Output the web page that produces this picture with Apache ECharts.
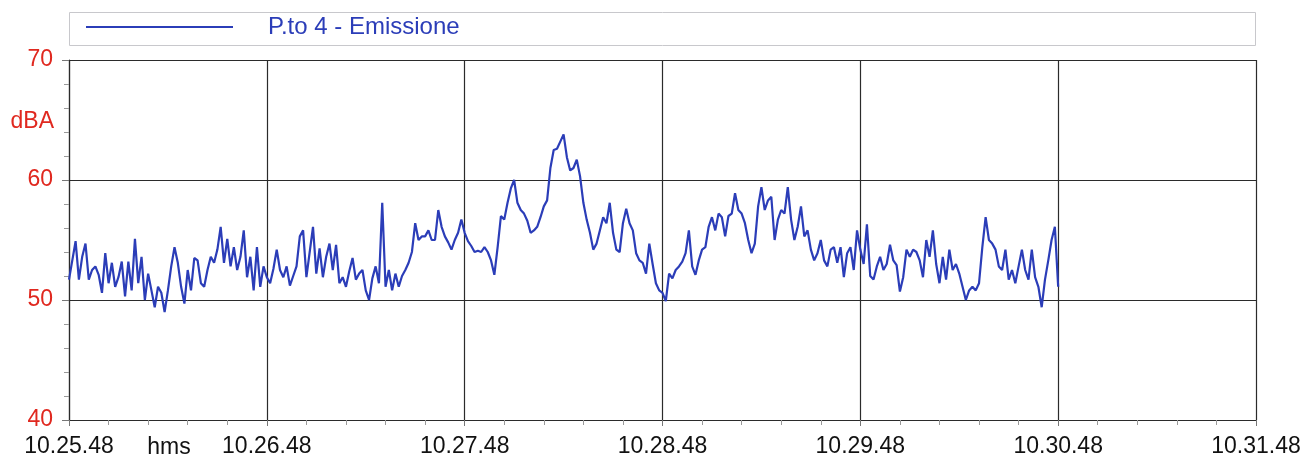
<!DOCTYPE html>
<html>
<head>
<meta charset="utf-8">
<script src="https://cdn.jsdelivr.net/npm/echarts@6/dist/echarts.min.js"></script>
<style>
  html, body { margin: 0; padding: 0; background: #ffffff; }
  #chart { width: 1306px; height: 459px; }
</style>
</head>
<body>
<div id="chart"></div>
<script>
// Sound level, dB(A), one reading per second from 10.25.48 onward
const seriesName = 'P.to 4 - Emissione';
const xTickLabels = ['10.25.48', '10.26.48', '10.27.48', '10.28.48', '10.29.48', '10.30.48', '10.31.48'];
const xUnitLabel = 'hms';
const yUnitLabel = 'dBA';

const levelsMin1 = [
  51.7, 53.3, 54.9, 51.7, 53.6, 54.7, 51.7, 52.5, 52.8, 52.1,
  50.6, 53.9, 51.4, 53.1, 51.1, 51.9, 53.2, 50.3, 53.2, 50.8,
  55.1, 51.4, 53.6, 50.0, 52.2, 50.8, 49.4, 51.1, 50.6, 49.0,
  50.8, 52.8, 54.4, 53.1, 51.1, 49.7, 52.5, 50.8, 53.5, 53.3,
  51.4, 51.1, 52.5, 53.6, 53.1, 54.2, 56.1, 53.1, 55.1, 52.8,
  54.4, 52.5, 53.6, 55.8, 51.9, 53.6, 50.8, 54.4, 51.1, 52.8
];
const levelsMin2 = [
  51.9, 51.4, 52.6, 54.2, 52.5, 51.9, 52.8, 51.2, 52.0, 52.8,
  55.3, 55.8, 51.9, 54.0, 56.1, 52.2, 54.3, 51.9, 53.6, 54.7,
  52.5, 54.6, 51.4, 51.9, 51.1, 52.4, 53.5, 51.7, 52.2, 52.5,
  50.8, 50.0, 51.8, 52.8, 51.4, 58.1, 51.1, 52.5, 50.8, 52.2,
  51.1, 52.0, 52.5, 53.1, 54.0, 56.4, 55.0, 55.3, 55.3, 55.8,
  55.0, 55.0, 57.5, 56.1, 55.3, 54.8, 54.2, 55.0, 55.6, 56.7
];
const levelsMin3 = [
  55.6, 54.9, 54.5, 54.0, 54.1, 54.0, 54.4, 54.0, 53.3, 52.1,
  54.4, 57.0, 56.7, 58.1, 59.3, 60.0, 58.1, 57.5, 57.2, 56.6,
  55.6, 55.8, 56.1, 56.9, 57.8, 58.3, 61.0, 62.5, 62.6, 63.2,
  63.8, 61.9, 60.8, 61.0, 61.7, 60.3, 58.1, 56.7, 55.6, 54.2,
  54.7, 55.8, 56.9, 56.4, 58.1, 55.6, 54.2, 54.0, 56.4, 57.6,
  56.4, 55.8, 53.9, 53.3, 53.1, 52.2, 54.7, 53.0, 51.4, 50.8
];
const levelsMin4 = [
  50.6, 49.9, 52.2, 51.8, 52.5, 52.8, 53.2, 53.9, 55.8, 52.8,
  52.1, 53.3, 54.2, 54.4, 56.1, 56.9, 55.8, 57.2, 56.9, 55.3,
  57.0, 57.2, 58.9, 57.5, 57.2, 56.4, 55.0, 53.9, 54.7, 57.8,
  59.4, 57.5, 58.3, 58.6, 55.0, 56.7, 57.5, 57.2, 59.4, 56.7,
  55.0, 56.1, 57.8, 55.3, 55.8, 54.2, 53.3, 53.9, 55.0, 53.3,
  52.8, 54.2, 54.4, 53.1, 54.4, 51.9, 53.9, 54.4, 52.5, 55.8
];
const levelsMin5 = [
  54.2, 53.0, 56.3, 52.0, 51.7, 52.8, 53.6, 52.5, 53.0, 54.6,
  53.3, 52.9, 50.7, 51.9, 54.2, 53.6, 54.2, 54.0, 53.3, 51.9,
  55.0, 53.6, 55.8, 53.0, 51.4, 53.6, 51.7, 54.2, 52.5, 53.0,
  52.2, 51.1, 50.0, 50.8, 51.1, 50.8, 51.4, 54.4, 56.9, 55.0,
  54.7, 54.2, 52.8, 52.5, 54.2, 51.7, 52.5, 51.4, 52.8, 54.2,
  52.5, 51.7, 54.2, 51.9, 51.1, 49.4, 51.7, 53.3, 55.0, 56.1
];
const levelsLast = [51.1];

const levels = [].concat(levelsMin1, levelsMin2, levelsMin3, levelsMin4, levelsMin5, levelsLast);
const points = levels.map((v, i) => [i, v]);   // [seconds since 10.25.48, dBA]

const FONT = '"Liberation Sans", Arial, Helvetica, sans-serif';
const RED = '#e0281f';
const BLUE = '#2b3db8';
const GRID = '#2b2b2b';

const chart = echarts.init(document.getElementById('chart'), null, { renderer: 'canvas' });

chart.setOption({
  animation: false,
  backgroundColor: '#ffffff',
  grid: { left: 69, right: 50, top: 60, bottom: 39, containLabel: false },
  legend: {
    data: [seriesName],
    left: 86,
    top: 15,
    padding: 0,
    z: 5,
    icon: 'rect',
    itemWidth: 147,
    itemHeight: 2,
    itemStyle: { color: BLUE },
    textStyle: { color: BLUE, fontSize: 24, fontFamily: FONT, padding: [0, 0, 0, 30] },
    selectedMode: false
  },
  graphic: [
    {
      type: 'rect', z: 0,
      shape: { x: 69.5, y: 12.5, width: 1186, height: 33 },
      style: { fill: '#ffffff', stroke: '#c8c8cc', lineWidth: 1 }
    },
    {
      type: 'text', x: 54, y: 122,
      style: { text: yUnitLabel, fill: RED, fontSize: 23, fontFamily: FONT, align: 'right', verticalAlign: 'middle' }
    },
    {
      type: 'text', x: 169, y: 448,
      style: { text: xUnitLabel, fill: '#111111', fontSize: 23, fontFamily: FONT, align: 'center', verticalAlign: 'middle' }
    }
  ],
  xAxis: {
    type: 'value',
    min: 0,
    max: 360,
    interval: 60,
    axisLine: { show: true, lineStyle: { color: GRID, width: 1.2 } },
    axisTick: { show: true, length: 6, lineStyle: { color: '#777' } },
    minorTick: { show: true, splitNumber: 5, length: 5, lineStyle: { color: '#999' } },
    axisLabel: {
      color: '#111111', fontSize: 23, fontFamily: FONT, margin: 15,
      formatter: v => xTickLabels[Math.round(v / 60)]
    },
    splitLine: { show: true, lineStyle: { color: GRID, width: 1.2 } }
  },
  yAxis: {
    type: 'value',
    min: 40,
    max: 70,
    interval: 10,
    axisLine: { show: true, lineStyle: { color: GRID, width: 1.2 } },
    axisTick: { show: true, length: 7, lineStyle: { color: '#777' } },
    minorTick: { show: true, splitNumber: 5, length: 5, lineStyle: { color: '#999' } },
    axisLabel: { color: RED, fontSize: 23, fontFamily: FONT, margin: 16 },
    splitLine: { show: true, lineStyle: { color: GRID, width: 1.2 } }
  },
  series: [{
    name: seriesName,
    type: 'line',
    data: points,
    showSymbol: false,
    symbol: 'none',
    lineStyle: { color: BLUE, width: 2.2 },
    itemStyle: { color: BLUE },
    z: 3
  }]
});
</script>
</body>
</html>
